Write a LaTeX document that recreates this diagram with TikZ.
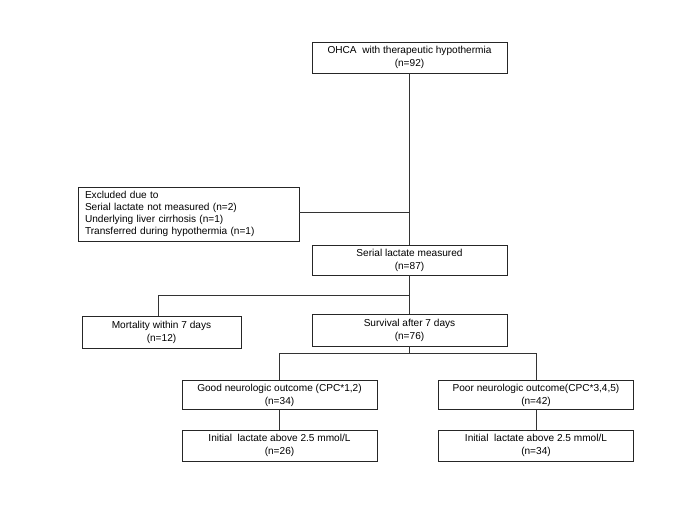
\documentclass[tikz,border=0pt]{standalone}
\usepackage{fontspec}
\setmainfont{Liberation Sans}
\begin{document}
\begin{tikzpicture}[x=1pt,y=-1pt,
  box/.style={draw=black!85, line width=0.6pt, inner sep=0pt, align=center,
    font=\fontsize{10.1}{12.8}\selectfont},
  conn/.style={draw=black!80, line width=0.6pt}]
\useasboundingbox (0,0) rectangle (685,513);
\node[box, minimum width=195pt, minimum height=31pt] (ohca) at (409.5,57.5)
  {OHCA\ \ with therapeutic hypothermia\\(n=92)};
\node[box, minimum width=221pt, minimum height=54pt, align=left, text width=207pt,
  font=\fontsize{10.1}{12.0}\selectfont] (excl) at (188.5,214)
  {Excluded due to\\Serial lactate not measured (n=2)\\Underlying liver cirrhosis (n=1)\\Transferred during hypothermia (n=1)};
\node[box, minimum width=195pt, minimum height=30pt] (serial) at (409.5,260)
  {Serial lactate measured\\(n=87)};
\node[box, minimum width=159pt, minimum height=32pt] (mort) at (161.5,332)
  {Mortality within 7 days\\(n=12)};
\node[box, minimum width=195pt, minimum height=32pt] (surv) at (409.5,330)
  {Survival after 7 days\\(n=76)};
\node[box, minimum width=195pt, minimum height=29pt] (good) at (279.5,395)
  {Good neurologic outcome (CPC*1,2)\\(n=34)};
\node[box, minimum width=195pt, minimum height=29pt] (poor) at (536,395)
  {Poor neurologic outcome(CPC*3,4,5)\\(n=42)};
\node[box, minimum width=195pt, minimum height=31pt] (initl) at (279.5,445.5)
  {Initial\ \ lactate above 2.5 mmol/L\\(n=26)};
\node[box, minimum width=195pt, minimum height=31pt] (initr) at (536,445.5)
  {Initial\ \ lactate above 2.5 mmol/L\\(n=34)};
\coordinate (j1) at (409.5,212);
\coordinate (j2) at (409.5,295);
\coordinate (m) at (158,295);
\coordinate (j3) at (409.5,353);
\draw[conn] (ohca.south) -- (serial.north);
\draw[conn] (excl.east |- j1) -- (j1);
\draw[conn] (serial.south) -- (surv.north);
\draw[conn] (j2) -- (m) -- (m |- mort.north);
\draw[conn] (surv.south) -- (j3);
\draw[conn] (good.north |- j3) -- (poor.north |- j3);
\draw[conn] (good.north |- j3) -- (good.north);
\draw[conn] (poor.north |- j3) -- (poor.north);
\draw[conn] (good.south) -- (initl.north);
\draw[conn] (poor.south) -- (initr.north);
\end{tikzpicture}
\end{document}
